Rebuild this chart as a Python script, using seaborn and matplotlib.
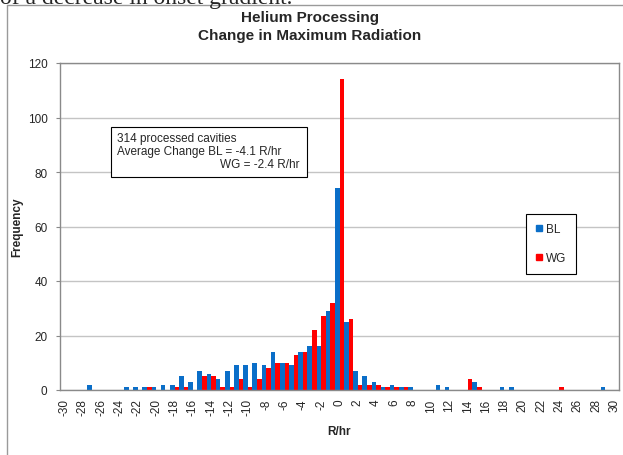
import numpy as np
import pandas as pd
from matplotlib import pyplot as plt
from matplotlib.lines import Line2D
from matplotlib.patches import Rectangle
import seaborn as sns

# categories on the x axis (R/hr change bins)
r_values = list(range(-30, 31))

# counts per bin
bl_counts = [0, 0, 0, 2, 0, 0, 0, 1, 1, 1,
             1, 2, 2, 5, 3, 7, 6, 4, 7, 9,
             9, 10, 9, 14, 10, 9, 14, 16, 16, 29,
             74, 25, 7, 5, 3, 1, 2, 1, 1, 0,
             0, 2, 1, 0, 0, 3, 0, 0, 1, 1,
             0, 0, 0, 0, 0, 0, 0, 0, 0, 1,
             0]
wg_counts = [0, 0, 0, 0, 0, 0, 0, 0, 0, 1,
             0, 0, 1, 1, 0, 5, 5, 1, 1, 4,
             1, 4, 8, 10, 10, 13, 14, 22, 27, 32,
             114, 26, 2, 2, 2, 1, 1, 1, 0, 0,
             0, 0, 0, 0, 4, 1, 0, 0, 0, 0,
             0, 0, 0, 0, 1, 0, 0, 0, 0, 0,
             0]
series_names = ['BL', 'WG']
colors = {'BL': '#0a6ec8', 'WG': '#ff0000'}

W, H = 623, 456


def px(x, y):
    return x / W, 1 - y / H


df = pd.DataFrame({
    'R/hr': r_values * 2,
    'Frequency': bl_counts + wg_counts,
    'Series': ['BL'] * len(r_values) + ['WG'] * len(r_values),
})

sns.set_style("white")
plt.rcParams['font.family'] = ['Liberation Sans', 'DejaVu Sans']

fig = plt.figure(figsize=(W / 100, H / 100), dpi=100)
ax = fig.add_axes([60 / W, 65 / H, 559 / W, 327 / H])

sns.barplot(data=df, x='R/hr', y='Frequency', hue='Series', order=r_values,
            hue_order=series_names, palette=colors, width=1.0, saturation=1,
            linewidth=0, legend=False, ax=ax)

ax.set_xlim(-0.5, len(r_values) - 0.5)
ax.set_ylim(0, 120)
ax.set_yticks(range(0, 121, 20))
ax.set_xticks(range(0, len(r_values), 2))
ax.set_xticklabels([str(v) for v in r_values[::2]], rotation=90)
ax.set_xticks(np.arange(-0.5, len(r_values), 1), minor=True)
ax.tick_params(axis='x', which='major', length=0, pad=6, labelsize=8.5)
ax.tick_params(axis='x', which='minor', length=3.5, color='#888888', width=0.8)
ax.tick_params(axis='y', length=3, color='#888888', width=0.8, pad=6, labelsize=8.5, left=True)

ax.yaxis.grid(True, color='#c4c4c4', lw=1)
ax.set_axisbelow(True)
for s in ax.spines.values():
    s.set_color('#8a8a8a')
    s.set_linewidth(1)

ax.set_xlabel('R/hr', fontweight='bold', fontsize=8.5)
ax.xaxis.set_label_coords(0.5, -0.108)
ax.xaxis.label.set_va('top')
ax.set_ylabel('Frequency', fontweight='bold', fontsize=8.5)
ax.yaxis.set_label_coords(-0.066, 0.5)

fig.text(310 / W, px(0, 27)[1], 'Helium Processing\nChange in Maximum Radiation',
         ha='center', va='center', fontsize=11, fontweight='bold', linespacing=1.3)

# annotation box
x0, y0 = px(111, 178)
x1, y1 = px(307, 128)
fig.add_artist(Rectangle((x0, y0), x1 - x0, y1 - y0, transform=fig.transFigure,
                         facecolor='white', edgecolor='black', lw=0.8, zorder=5))
fig.text(*px(117, 139), '314 processed cavities', fontsize=8.5, va='center', zorder=6)
fig.text(*px(117, 152), 'Average Change BL = -4.1 R/hr', fontsize=8.5, va='center', zorder=6)
fig.text(*px(300, 165), 'WG = -2.4 R/hr', fontsize=8.5, va='center', ha='right', zorder=6)

handles = [Line2D([], [], marker='s', color=colors[n], linestyle='none', markersize=5)
           for n in series_names]
leg = ax.legend(handles, series_names, loc='center', bbox_to_anchor=(0.878, 0.448),
                fontsize=8.5, labelspacing=1.45, handlelength=0.6, handletextpad=0.3,
                borderpad=0.8, fancybox=False, framealpha=1, edgecolor='black')
leg.get_frame().set_linewidth(0.8)

# chart frame and the document text above it
fig.add_artist(Line2D([7 / W, 7 / W], [0, px(0, 6)[1]], transform=fig.transFigure,
                      color='#9a9a9a', lw=1))
fig.add_artist(Line2D([7 / W, 1], [px(0, 6)[1]] * 2, transform=fig.transFigure,
                      color='#9a9a9a', lw=1))
fig.text(0, px(0, 4)[1], 'of a decrease in onset gradient.', fontsize=17,
         family=['Liberation Serif', 'DejaVu Serif'], va='baseline')

plt.savefig('out.png', dpi=100)
